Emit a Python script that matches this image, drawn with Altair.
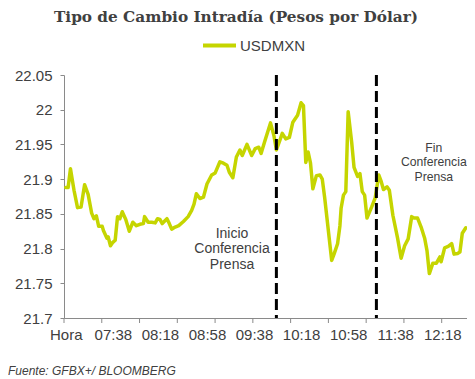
import altair as alt
import pandas as pd

# ---- data (minutes after 06:58, USDMXN rate) ----
minutes = [0, 2, 4, 7, 10, 13, 16, 19, 22, 24, 26, 28, 31, 32, 35, 36, 38, 40, 42, 44,
           46, 48, 51, 54, 57, 60, 63, 66, 67, 70, 73, 76, 78, 80, 82, 86, 88, 90, 93, 96,
           100, 104, 107, 109, 111, 114, 117, 120, 124, 127, 131, 134, 137, 139, 142, 145, 148, 150, 154, 158,
           161, 164, 166, 169, 174, 177, 179, 182, 184, 187, 190, 193, 197, 200, 202, 204, 206, 208, 210, 213,
           216, 218, 220, 226, 228, 231, 233, 234, 236, 238, 240, 243, 245, 248, 250, 252, 254, 256, 260, 263,
           266, 268, 270, 273, 275, 278, 282, 285, 288, 291, 294, 296, 299, 302, 305, 307, 309, 312, 315, 318,
           319, 322, 325, 328, 330, 333, 335, 337, 340]
usdmxn = [21.888, 21.888, 21.915, 21.884, 21.859, 21.860, 21.892, 21.878, 21.851, 21.843,
          21.847, 21.832, 21.832, 21.826, 21.815, 21.817, 21.804, 21.809, 21.812, 21.846,
          21.843, 21.853, 21.842, 21.825, 21.838, 21.833, 21.835, 21.836, 21.846, 21.838,
          21.838, 21.837, 21.843, 21.842, 21.836, 21.843, 21.836, 21.828, 21.831, 21.833,
          21.839, 21.846, 21.855, 21.864, 21.879, 21.872, 21.874, 21.893, 21.906, 21.909,
          21.925, 21.923, 21.920, 21.910, 21.902, 21.932, 21.942, 21.934, 21.950, 21.934,
          21.944, 21.946, 21.937, 21.954, 21.981, 21.962, 21.942, 21.956, 21.966, 21.958,
          21.960, 21.982, 21.992, 22.010, 22.006, 21.924, 21.939, 21.923, 21.886, 21.905,
          21.906, 21.900, 21.874, 21.783, 21.792, 21.807, 21.833, 21.858, 21.877, 21.882,
          21.997, 21.953, 21.917, 21.904, 21.908, 21.882, 21.877, 21.844, 21.860, 21.873,
          21.906, 21.897, 21.885, 21.889, 21.884, 21.848, 21.815, 21.786, 21.804, 21.814,
          21.846, 21.844, 21.844, 21.831, 21.815, 21.797, 21.764, 21.779, 21.779, 21.788,
          21.781, 21.801, 21.803, 21.807, 21.792, 21.793, 21.795, 21.822, 21.830]
assert len(minutes) == len(usdmxn)

series_name = "USDMXN"
x_labels = ["Hora", "07:38", "08:18", "08:58", "09:38", "10:18", "10:58", "11:38", "12:18"]
x_label_pos = [0, 40, 80, 120, 160, 200, 240, 280, 320]
x_tick_pos = [-1.5, 30.6, 62.7, 94.8, 126.9, 159.0, 191.1, 223.2, 255.3, 287.4, 319.5]
y_ticks = [21.7, 21.75, 21.8, 21.85, 21.9, 21.95, 22.0, 22.05]

event_minutes = [179, 264]
ann_start = {"Minuto": 141.3, "Tipo": 21.821, "t": "Inicio\nConferencia\nPrensa"}
ann_end = {"Minuto": 312.8, "Tipo": 21.945, "t": "Fin\nConferencia\nPrensa"}

title_text = "Tipo de Cambio Intradía (Pesos por Dólar)"
source_text = "Fuente: GFBX+/ BLOOMBERG"

# ---- styling ----
W, H = 403, 243
LINE_COLOR = "#c5d500"
TEXT = "#404040"
AXIS = "#8a8a8a"
SANS = "Liberation Sans"

df = pd.DataFrame({"Minuto": minutes, "Tipo": usdmxn, "Serie": series_name})

x_scale = alt.Scale(domain=[-1.5, 341], nice=False, zero=False)
y_scale = alt.Scale(domain=[21.7, 22.05], nice=False, zero=False)

label_expr = "[" + ",".join(f"'{s}'" for s in x_labels) + "][round(datum.value/40)]"

x_axis = alt.Axis(values=x_label_pos, labelExpr=label_expr, ticks=False, tickSize=0,
                  labelPadding=9, domainColor=AXIS, grid=False, title=None,
                  labelFontSize=15, labelColor=TEXT, labelFont=SANS, labelFlush=False,
                  labelOverlap=False)
y_axis = alt.Axis(values=y_ticks, format=".4~g", tickSize=4, tickColor=AXIS,
                  domainColor=AXIS, grid=False, title=None, labelPadding=8,
                  labelFontSize=15, labelColor=TEXT, labelFont=SANS, labelFlush=False,
                  labelOverlap=False)

x_enc = alt.X("Minuto:Q", scale=x_scale, title=None, axis=x_axis)
y_enc = alt.Y("Tipo:Q", scale=y_scale, title=None, axis=y_axis)

line = alt.Chart(df).mark_line(strokeWidth=3.5, strokeJoin="round", strokeCap="round").encode(
    x=x_enc,
    y=y_enc,
    color=alt.Color("Serie:N", scale=alt.Scale(domain=[series_name], range=[LINE_COLOR]),
                    legend=alt.Legend(orient="none", legendX=137, legendY=-48, title=None,
                                      symbolType="stroke", symbolSize=1089, symbolStrokeWidth=4,
                                      labelFontSize=15, labelColor=TEXT, labelFont=SANS,
                                      labelOffset=2, padding=0)),
)

ticks = alt.Chart(pd.DataFrame({"Minuto": x_tick_pos})).mark_rule(color=AXIS, strokeWidth=1).encode(
    x=x_enc,
    y=alt.value(H), y2=alt.value(H + 5),
)

events = alt.Chart(pd.DataFrame({"Minuto": event_minutes})).mark_rule(
    color="black", strokeWidth=3, strokeDash=[11, 5]).encode(
    x=x_enc,
    y=alt.value(0), y2=alt.value(H),
)

ann1 = alt.Chart(pd.DataFrame([ann_start])).mark_text(
    font=SANS, fontSize=14, lineHeight=15.5, color=TEXT, lineBreak="\n",
    align="center", baseline="middle").encode(x=x_enc, y=y_enc, text="t:N")

ann2 = alt.Chart(pd.DataFrame([ann_end])).mark_text(
    font=SANS, fontSize=12.2, lineHeight=14.5, color=TEXT, lineBreak="\n",
    align="center", baseline="middle").encode(x=x_enc, y=y_enc, text="t:N")

title = alt.Chart(pd.DataFrame({"t": [title_text]})).mark_text(
    font="DejaVu Serif", fontWeight="bold", fontSize=15.3, color=TEXT,
    align="center", baseline="alphabetic").encode(
    text="t:N", x=alt.value(172), y=alt.value(-53))

source = alt.Chart(pd.DataFrame({"t": [source_text]})).mark_text(
    font=SANS, fontStyle="italic", fontSize=12, color=TEXT,
    align="left", baseline="alphabetic").encode(
    text="t:N", x=alt.value(-56), y=alt.value(300))

chart = alt.layer(line, ticks, events, ann1, ann2, title, source).properties(
    width=W, height=H,
    padding={"left": 56, "top": 67, "right": 0, "bottom": 62},
    autosize=alt.AutoSizeParams(type="none"),
    background="white",
).configure_view(stroke=None)

chart.save("out.html", embed_options={"renderer": "svg", "actions": False})
